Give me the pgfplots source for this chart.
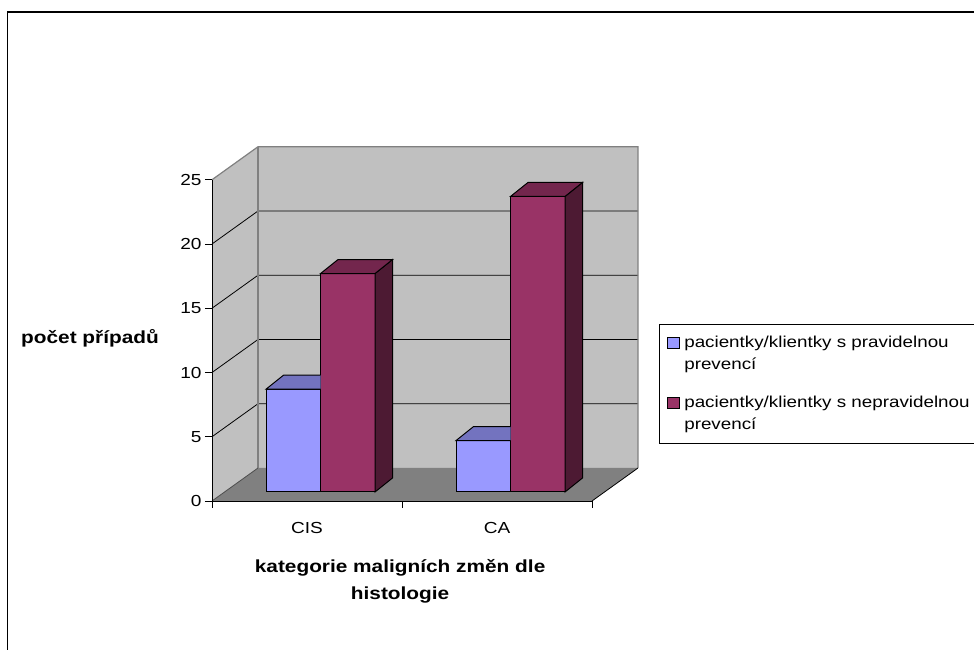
\documentclass[border=0pt]{standalone}
\usepackage{fontspec}
\setmainfont{Liberation Sans}[FakeStretch=1.19]
\usepackage{pgfplots}
\pgfplotsset{compat=1.18}
\usepackage{pgfplotstable}

\definecolor{wallc}{HTML}{C0C0C0}
\definecolor{floorc}{HTML}{808080}
\definecolor{blueF}{HTML}{9999FF}
\definecolor{blueT}{HTML}{7373BF}
\definecolor{purF}{HTML}{993366}
\definecolor{purT}{HTML}{73264D}
\definecolor{purS}{HTML}{4D1A33}

% x: 0 = CIS, 1 = CA
\pgfplotstableread{
x val
0 8
1 4
}\regular
\pgfplotstableread{
x val
0 17
1 23
}\irregular

\begin{document}
\begin{tikzpicture}[font=\fontsize{16}{19}\selectfont]
\useasboundingbox (0,0) rectangle (974pt,650pt);
\draw[line width=1.2pt] (7.5pt,-5pt) -- (7.5pt,638pt) -- (990pt,638pt);

% ---------- front axis with walls, floor and grid ----------
\begin{axis}[
  at={(212pt,149pt)}, anchor=south west,
  x=190pt, y=12.85pt,
  xmin=-0.5, xmax=1.5, ymin=0, ymax=25,
  axis lines=left,
  axis line style={-, black, line width=0.8pt},
  tick style={black, line width=0.8pt},
  tick align=outside, major tick length=7pt,
  ytick={0,5,...,25},
  xtick={-0.5,0.5,1.5}, xticklabels={},
  extra x ticks={0,1}, extra x tick labels={CIS,CA},
  extra x tick style={major tick length=0pt, tick label style={yshift=-18pt}},
  /pgf/number format/assume math mode=true,
  clip=false, axis on top,
  ylabel={počet případů},
  ylabel style={rotate=-90, font=\bfseries\fontsize{17.5}{19}\selectfont, at={(rel axis cs:-0.321,0.507)}, anchor=center},
  xlabel={kategorie maligních změn dle\\histologie},
  xlabel style={align=center, font=\bfseries\fontsize{17.5}{27}\selectfont, at={(rel axis cs:0.495,-0.25)}, anchor=center},
]
% back wall
\fill[wallc] (axis cs:-0.2579,2.568) rectangle (axis cs:1.7421,27.568);
% left wall
\fill[wallc] (axis cs:-0.5,0) -- (axis cs:-0.2579,2.568) -- (axis cs:-0.2579,27.568) -- (axis cs:-0.5,25) -- cycle;
% floor
\fill[floorc] (axis cs:-0.5,0) -- (axis cs:1.5,0) -- (axis cs:1.7421,2.568) -- (axis cs:-0.2579,2.568) -- cycle;
% grid lines
\pgfplotsinvokeforeach{5,10,15,20}{
  \draw[black, line width=0.8pt] (axis cs:-0.5,#1) -- (axis cs:-0.2579,#1+2.568) -- (axis cs:1.7421,#1+2.568);
}
% wall outlines
\draw[floorc, line width=1.2pt] (axis cs:-0.5,25) -- (axis cs:-0.2579,27.568) -- (axis cs:1.7421,27.568) -- (axis cs:1.7421,2.568);
\draw[floorc, line width=1.2pt] (axis cs:-0.2579,27.568) -- (axis cs:-0.2579,2.568);
\draw[floorc!60!black, line width=0.8pt] (axis cs:-0.5,0) -- (axis cs:-0.2579,2.568);
\draw[black, line width=0.8pt] (axis cs:1.5,0) -- (axis cs:1.7421,2.568);
\end{axis}

% ---------- bar axis (middle depth plane) ----------
\begin{axis}[
  at={(225.5pt,158pt)}, anchor=south west,
  x=190pt, y=12.85pt,
  xmin=-0.5, xmax=1.5, ymin=0, ymax=25,
  hide axis, clip=false,
  legend style={at={(rel axis cs:1.1408,0.5230)}, anchor=north west,
    draw=black, line width=0.8pt, fill=white,
    font=\fontsize{15.8}{22}\selectfont,
    cells={align=left, anchor=west},
    inner xsep=8pt, inner ysep=10pt, row sep=21pt,
    /tikz/every odd column/.append style={column sep=2pt}},
]
\addplot[ybar, bar width=54.5pt, bar shift=-27.25pt, fill=blueF, draw=black, line width=1pt,
  legend image code/.code={\draw[fill=blueF, draw=black, line width=0.9pt] (0pt,5.5pt) rectangle (12pt,16.5pt);}]
  table[x=x, y=val]{\regular};
\addlegendentry{pacientky/klientky s pravidelnou\\prevencí}
\addplot[forget plot, only marks, scatter, mark=*, mark size=0pt,
  visualization depends on={\thisrow{val} \as \hv},
  scatter/@pre marker code/.code={
    \fill[blueT, draw=black, line width=1pt] (0pt,0pt) -- (-54.5pt,0pt) -- (-37pt,14pt) -- (0pt,14pt);
  },
  scatter/@post marker code/.code={}]
  table[x=x, y=val]{\regular};

\addplot[ybar, bar width=54.5pt, bar shift=27.25pt, fill=purF, draw=black, line width=1pt,
  legend image code/.code={\draw[fill=purF, draw=black, line width=0.9pt] (0pt,5.5pt) rectangle (12pt,16.5pt);}]
  table[x=x, y=val]{\irregular};
\addlegendentry{pacientky/klientky s nepravidelnou\\prevencí}
\addplot[forget plot, only marks, scatter, mark=*, mark size=0pt,
  visualization depends on={\thisrow{val} \as \hv},
  scatter/@pre marker code/.code={
    \fill[purS, draw=black, line width=1pt] (54.5pt,0pt) -- (72pt,14pt) -- (72pt,{14pt-\hv*12.85pt}) -- (54.5pt,{-\hv*12.85pt}) -- cycle;
    \fill[purT, draw=black, line width=1pt] (0pt,0pt) -- (54.5pt,0pt) -- (72pt,14pt) -- (17.5pt,14pt) -- cycle;
  },
  scatter/@post marker code/.code={}]
  table[x=x, y=val]{\irregular};
\end{axis}
\end{tikzpicture}
\end{document}
